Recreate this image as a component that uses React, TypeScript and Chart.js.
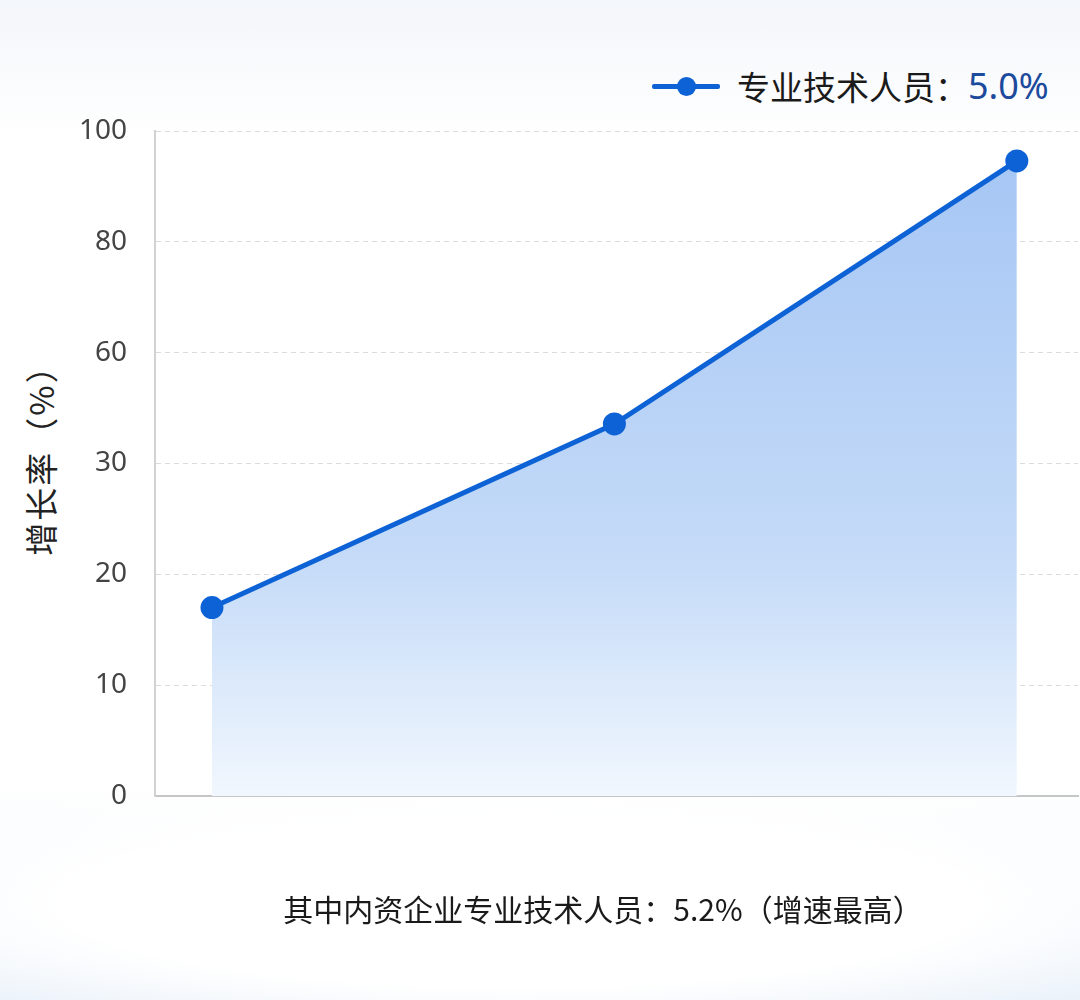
import { useEffect, useRef } from 'react';
import Chart from 'chart.js/auto';

// y axis is labelled unevenly: every gridline is the same distance apart
const tickLabels = [0, 10, 20, 30, 60, 80, 100];
const seriesName = '专业技术人员';
const seriesTotal = '5.0%';
const pointIndex = [0, 1, 2];
const growthValues = [17.0, 40.7, 94.6];
const yTitle = '增长率（%）';
const footNote = '其中内资企业专业技术人员：5.2%（增速最高）';

const LINE = '#0d62d6';
const CJK = '"Noto Sans CJK SC", "Noto Sans", sans-serif';

// map a value onto the gridline index of the uneven axis
const toAxis = (v: number) => {
  for (let i = 0; i < tickLabels.length - 1; i++) {
    const a = tickLabels[i];
    const b = tickLabels[i + 1];
    if (v <= b) return i + (v - a) / (b - a);
  }
  return tickLabels.length - 1;
};

const App = () => {
  const canvasRef = useRef<HTMLCanvasElement | null>(null);
  const chartRef = useRef<Chart<'line'> | null>(null);

  useEffect(() => {
    if (!canvasRef.current) return;
    if (chartRef.current) chartRef.current.destroy();

    chartRef.current = new Chart(canvasRef.current, {
      type: 'line',
      data: {
        datasets: [
          {
            label: seriesName,
            data: pointIndex.map((x, i) => ({ x, y: toAxis(growthValues[i]) })),
            borderColor: LINE,
            borderWidth: 5,
            pointBackgroundColor: LINE,
            pointBorderColor: LINE,
            pointRadius: 9,
            tension: 0,
            fill: 'origin',
            backgroundColor: (ctx) => {
              const area = ctx.chart.chartArea;
              if (!area) return 'rgba(166,198,244,0.6)';
              const g = ctx.chart.ctx.createLinearGradient(0, area.top, 0, area.bottom);
              g.addColorStop(0, '#a4c5f4');
              g.addColorStop(0.65, '#c5dbf8');
              g.addColorStop(1, '#f1f7fe');
              return g;
            },
          },
        ],
      },
      options: {
        animation: false,
        responsive: false,
        layout: { autoPadding: false, padding: { left: 0, right: 2, top: 131, bottom: 204 } },
        plugins: {
          legend: { display: false },
          tooltip: { enabled: false },
        },
        scales: {
          x: {
            type: 'linear',
            min: -0.1416,
            max: 2.152,
            ticks: { display: false },
            grid: { display: false, drawTicks: false },
            border: { display: true, color: '#c6c6c6', width: 2 },
            afterFit: (scale) => {
              scale.height = 0;
            },
          },
          y: {
            type: 'linear',
            min: 0,
            max: tickLabels.length - 1,
            ticks: {
              stepSize: 1,
              padding: 28,
              color: '#444',
              font: { family: '"Noto Sans", sans-serif', size: 28 },
              callback: (v) => String(tickLabels[Number(v)] ?? ''),
            },
            grid: { color: '#dcdcdc', lineWidth: 1, drawTicks: false },
            border: { display: true, color: '#d2d2d2', width: 2, dash: [5, 4] },
            afterFit: (scale) => {
              scale.width = 155;
            },
          },
        },
      },
    });

    return () => {
      if (chartRef.current) {
        chartRef.current.destroy();
        chartRef.current = null;
      }
    };
  }, []);

  return (
    <div
      style={{
        position: 'absolute',
        left: 0,
        top: 0,
        width: 1080,
        height: 1000,
        overflow: 'hidden',
        background:
          'radial-gradient(ellipse 820px 150px at 48% 905px, rgba(255,255,255,1) 55%, rgba(255,255,255,0) 100%), linear-gradient(to bottom, #f3f6fa 0%, #ffffff 14%, #ffffff 78%, #e6eff9 100%)',
      }}
    >
      <div
        style={{
          position: 'absolute',
          left: 652,
          top: 61,
          display: 'flex',
          alignItems: 'center',
          fontFamily: CJK,
          fontSize: 33,
          whiteSpace: 'nowrap',
        }}
      >
        <span style={{ position: 'relative', width: 68, height: 20, marginRight: 17 }}>
          <span
            style={{
              position: 'absolute',
              left: 0,
              top: 8,
              width: 68,
              height: 5,
              background: LINE,
              borderRadius: 2,
            }}
          />
          <span
            style={{
              position: 'absolute',
              left: 25,
              top: 1,
              width: 19,
              height: 19,
              borderRadius: '50%',
              background: LINE,
            }}
          />
        </span>
        <span style={{ color: '#1a1a1a' }}>{seriesName}：</span>
        <span style={{ color: '#1c4a9c', fontFamily: '"Noto Sans", sans-serif', fontSize: 36 }}>
          {seriesTotal}
        </span>
      </div>
      <div
        style={{
          position: 'absolute',
          left: 40,
          top: 452,
          transform: 'translate(-50%, -50%) rotate(-90deg)',
          fontFamily: CJK,
          fontSize: 33,
          letterSpacing: 2,
          color: '#222',
          whiteSpace: 'nowrap',
        }}
      >
        {yTitle}
      </div>
      <canvas
        ref={canvasRef}
        width={1080}
        height={1000}
        style={{ position: 'absolute', left: 0, top: 0, width: 1080, height: 1000 }}
      />
      <div
        style={{
          position: 'absolute',
          left: 0,
          width: 1080,
          top: 886,
          textAlign: 'center',
          paddingLeft: 126,
          boxSizing: 'border-box',
          fontFamily: CJK,
          fontSize: 30,
          color: '#1a1a1a',
          whiteSpace: 'nowrap',
        }}
      >
        {footNote}
      </div>
    </div>
  );
};

export default App;
